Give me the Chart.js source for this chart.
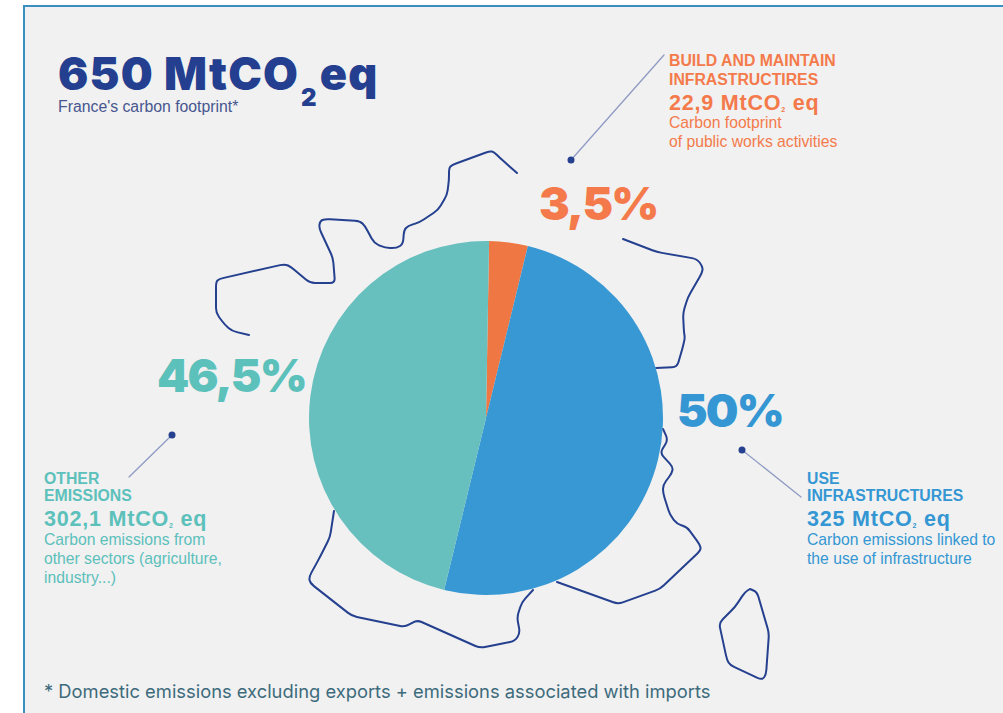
<!DOCTYPE html>
<html><head><meta charset="utf-8">
<script src="https://cdn.jsdelivr.net/npm/chart.js@4"></script>
<style>
html,body{margin:0;padding:0;background:#fff;width:1003px;height:713px;overflow:hidden}
#panel{position:absolute;left:23px;top:5px;width:990px;height:720px;background:#f1f1f1;border:2px solid #3a8fc0;box-sizing:border-box}
#map{position:absolute;left:0;top:0}
#wrap{position:absolute;left:309px;top:241px;width:354px;height:354px}
.t{position:absolute;white-space:nowrap;font-family:"Liberation Sans",Arial,sans-serif;line-height:20px}
.h{font-size:15.8px;font-weight:700;margin-top:1px}
.v{font-size:21.5px;font-weight:700;letter-spacing:.8px;margin-top:1px}
.d{font-size:15.7px;margin-top:1px}
.p{font-family:Inter,sans-serif;font-weight:900;font-size:46px;line-height:60px;letter-spacing:-1.8px}
.v sub{font-size:7px;line-height:0;vertical-align:-2px}
.orange{color:#f47a4b}.blue{color:#3497d3}.teal{color:#5cc0bb}
</style></head><body>
<div id="panel"></div>
<svg id="map" width="1003" height="713" fill="none" stroke="#24408f" stroke-width="2" stroke-linejoin="round" stroke-linecap="round">
<g id="outline"></g>
<g stroke="#8f9bc4" stroke-width="1.3"><path d="M664 55 L571 160"/><path d="M172 435 L129 477"/><path d="M742 450 L801 497"/></g>
<g fill="#24408f" stroke="none"><circle cx="571" cy="160" r="3.5"/><circle cx="172" cy="435" r="3.5"/><circle cx="742" cy="450" r="3.5"/></g>
</svg>
<div id="wrap"><canvas id="c"></canvas></div>

<div class="t" style="left:58px;top:44px;font-family:Inter,sans-serif;font-weight:900;font-size:45px;line-height:60px;letter-spacing:1.2px;color:#243f8f">650 MtCO<span style="font-size:24px;position:relative;top:16px;margin:0 2px">2</span>eq</div>
<div class="t" style="left:58px;top:97px;font-size:15.8px;color:#47568f">France's carbon footprint*</div>

<div class="t p orange" style="left:539px;top:173px">3,5%</div>
<div class="t p teal" style="left:157px;top:345px">46,5%</div>
<div class="t p blue" style="left:677px;top:380px">50%</div>

<div class="t h orange" style="left:669px;top:50px">BUILD AND MAINTAIN</div>
<div class="t h orange" style="left:669px;top:69px">INFRASTRUCTIRES</div>
<div class="t v orange" style="left:669px;top:92px">22,9 MtCO<sub>2</sub> eq</div>
<div class="t d orange" style="left:669px;top:112px">Carbon footprint</div>
<div class="t d orange" style="left:669px;top:131px">of public works activities</div>

<div class="t h teal" style="left:44px;top:468px">OTHER</div>
<div class="t h teal" style="left:44px;top:485px">EMISSIONS</div>
<div class="t v teal" style="left:44px;top:508px">302,1 MtCO<sub>2</sub> eq</div>
<div class="t d teal" style="left:44px;top:529px">Carbon emissions from</div>
<div class="t d teal" style="left:44px;top:548px">other sectors (agriculture,</div>
<div class="t d teal" style="left:44px;top:567px">industry...)</div>

<div class="t h blue" style="left:807px;top:468px">USE</div>
<div class="t h blue" style="left:807px;top:485px">INFRASTRUCTURES</div>
<div class="t v blue" style="left:807px;top:508px">325 MtCO<sub>2</sub> eq</div>
<div class="t d blue" style="left:807px;top:529px">Carbon emissions linked to</div>
<div class="t d blue" style="left:807px;top:548px">the use of infrastructure</div>

<div class="t" style="left:44px;top:680px;font-family:Inter,sans-serif;font-size:18.35px;line-height:22px;color:#3d6b7c">* Domestic emissions excluding exports + emissions associated with imports</div>

<script>
const categories = ["Build and maintain infrastructures", "Use infrastructures", "Other emissions"];
const emissionsMtCO2 = [22.9, 325, 302.1];
const sliceColors = ["#ef7743", "#3898d3", "#67bfbe"];

// Decorative outline of France (not data)
const outlineNorthWest = [[249,335],[232,331],[225,325],[216,313],[216,282],[219,279],[285,264],[291,267],[310,283],[335,283],[333,258],[319,228],[320,221],[325,219],[360,221],[365,226],[374,243],[385,248],[397,248],[403,244],[404,230],[408,226],[420,222],[438,210],[447,195],[449,180],[449,168],[452,165],[490,151],[494,152],[500,158],[517,173]];
const outlineNorthEast = [[623,239],[657,252],[697,259],[703,267],[702,273],[688,297],[683,313],[684,333],[685,338],[682,350],[677,367],[656,368]];
const outlineSouthEast = [[663,429],[668,440],[660,453],[673,467],[672,473],[663,485],[663,493],[670,515],[677,524],[687,527],[700,545],[701,550],[660,589],[618,604],[557,582]];
const outlineSouth = [[533,590],[522,602],[517,617],[520,633],[515,641],[500,644],[480,648],[417,620],[405,627],[352,616],[310,583],[309,577],[320,557],[330,537],[334,511]];
const outlineCorsica = [[750,589],[757,592],[769,633],[766,675],[762,680],[730,665],[727,660],[719,623],[735,607],[745,592],[750,589]];

function roundedPath(pts) {
  const R = 5;
  let d = "M" + pts[0].join(" ");
  for (let i = 1; i < pts.length - 1; i++) {
    const [a, b, c] = [pts[i-1], pts[i], pts[i+1]];
    const la = Math.hypot(a[0]-b[0], a[1]-b[1]), lc = Math.hypot(c[0]-b[0], c[1]-b[1]);
    const ra = Math.min(R, la/2), rc = Math.min(R, lc/2);
    const p = [b[0]+(a[0]-b[0])*ra/la, b[1]+(a[1]-b[1])*ra/la];
    const q = [b[0]+(c[0]-b[0])*rc/lc, b[1]+(c[1]-b[1])*rc/lc];
    d += " L" + p.join(" ") + " Q" + b.join(" ") + " " + q.join(" ");
  }
  return d + " L" + pts[pts.length-1].join(" ");
}
document.getElementById("outline").innerHTML =
  [outlineNorthWest, outlineNorthEast, outlineSouthEast, outlineSouth, outlineCorsica]
    .map(p => '<path d="' + roundedPath(p) + '"/>').join("");

new Chart(document.getElementById("c"), {
  type: "pie",
  data: { labels: categories, datasets: [{ data: emissionsMtCO2, backgroundColor: sliceColors, borderWidth: 0 }] },
  options: {
    responsive: true, maintainAspectRatio: false, animation: false,
    rotation: 1,
    layout: { padding: 0 },
    plugins: { legend: { display: false }, tooltip: { enabled: false } }
  }
});
</script>
</body></html>
